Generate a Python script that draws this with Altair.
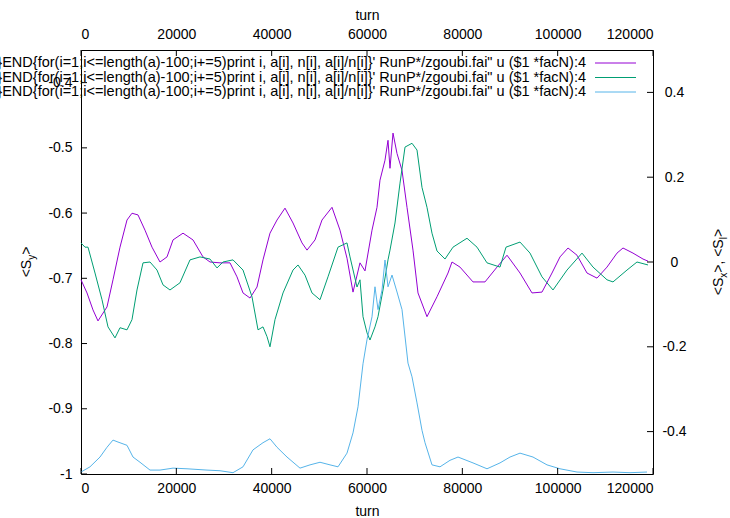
import altair as alt
import pandas as pd

# ---- data ----
turn_a = [0, 1259, 2517, 3566, 5454, 6713, 8182, 9650, 10699, 11958, 13427, 14895, 16573, 18042,
          19301, 21399, 23497, 25595, 27063, 29161, 31259, 32727, 33986, 35455, 36923, 38182,
          39650, 41119, 42797, 44476, 46364, 47413, 49091, 50559, 52657, 54336, 55804, 57063,
          58531, 59580, 61049, 62098, 62727, 63776, 64406, 64825, 65455, 66294, 67343, 68392,
          69650, 70699, 72587, 74685, 76993, 77832, 79510, 82238, 84755, 87273, 89371, 92098,
          94615, 96713, 98811, 100490, 102168, 104056, 106154, 108252, 110350, 112448, 113706,
          115804, 117902, 118951]
val_a = [-0.042, -0.073, -0.113, -0.139, -0.106, -0.042, 0.035, 0.099, 0.115, 0.111, 0.075, 0.035,
         0.0, 0.012, 0.052, 0.068, 0.052, 0.012, 0.0, -0.002, -0.002, -0.035, -0.073, -0.085,
         -0.059, 0.005, 0.068, 0.099, 0.127, 0.092, 0.045, 0.028, 0.052, 0.099, 0.129, 0.075,
         0.009, -0.071, -0.002, -0.021, 0.075, 0.129, 0.193, 0.240, 0.287, 0.221, 0.304, 0.256,
         0.216, 0.129, 0.028, -0.073, -0.129, -0.082, -0.026, 0.0, -0.012, -0.047, -0.047,
         -0.012, 0.016, -0.026, -0.073, -0.071, -0.026, 0.012, 0.033, 0.016, -0.026, -0.038,
         -0.012, 0.021, 0.033, 0.021, 0.007, 0.002]

turn_b = [0, 839, 1469, 2937, 4406, 5664, 7133, 8182, 9650, 10699, 11748, 13007, 14476, 15944,
          17203, 18671, 20769, 22867, 24965, 27063, 28532, 29790, 31888, 33986, 35874, 37133,
          38182, 39021, 39650, 40699, 42378, 44476, 45524, 46993, 48461, 50140, 51818, 53916,
          55804, 56434, 57902, 58531, 59161, 60000, 60629, 61678, 62308, 63357, 64406, 64825,
          65874, 66923, 67972, 69441, 70490, 71538, 72587, 73636, 74685, 76364, 78042, 80979,
          83077, 85175, 87902, 89161, 92098, 94196, 96713, 99021, 101958, 105105, 107413,
          110350, 111608, 114545, 116643, 118951]
val_b = [0.045, 0.035, 0.035, -0.026, -0.089, -0.153, -0.179, -0.155, -0.160, -0.136, -0.066,
         -0.002, 0.0, -0.019, -0.054, -0.066, -0.049, 0.005, 0.012, 0.007, -0.014, 0.0, 0.005,
         -0.019, -0.082, -0.160, -0.153, -0.176, -0.200, -0.136, -0.073, -0.019, -0.007, -0.031,
         -0.073, -0.089, -0.035, 0.035, 0.045, 0.012, -0.059, -0.042, -0.129, -0.167, -0.184,
         -0.153, -0.129, -0.066, 0.005, 0.028, 0.092, 0.186, 0.271, 0.280, 0.264, 0.176, 0.129,
         0.068, 0.026, 0.007, 0.035, 0.056, 0.035, -0.002, -0.012, 0.035, 0.047, 0.021, -0.035,
         -0.066, -0.019, 0.021, -0.012, -0.042, -0.047, -0.019, 0.0, -0.007]

turn_c = [0, 1888, 3986, 5454, 6713, 7762, 9650, 10909, 12378, 14476, 16573, 19301, 22238,
          26434, 29161, 31888, 33986, 36084, 38182, 39650, 41119, 43217, 45944, 48042, 50140,
          52238, 53916, 55804, 57063, 58112, 59161, 60000, 61049, 61678, 62308, 63147, 63776,
          64406, 65245, 66294, 67343, 68601, 69441, 70490, 71538, 72168, 73636, 75315, 77413,
          79091, 82238, 85175, 87902, 90000, 92098, 94825, 97762, 100490, 104056, 107413,
          111608, 115175, 118741]
val_c = [-0.997, -0.989, -0.974, -0.959, -0.948, -0.951, -0.956, -0.974, -0.982, -0.994, -0.994,
         -0.991, -0.992, -0.994, -0.995, -0.998, -0.989, -0.963, -0.952, -0.946, -0.959, -0.974,
         -0.991, -0.986, -0.982, -0.986, -0.989, -0.968, -0.937, -0.897, -0.831, -0.794, -0.759,
         -0.713, -0.748, -0.718, -0.672, -0.713, -0.695, -0.721, -0.748, -0.830, -0.851, -0.891,
         -0.933, -0.952, -0.986, -0.989, -0.979, -0.974, -0.983, -0.992, -0.983, -0.974, -0.968,
         -0.974, -0.986, -0.992, -0.997, -0.998, -0.997, -0.998, -0.997]

x_ticks = [0, 20000, 40000, 60000, 80000, 100000, 120000]
left_ticks = [-1.0, -0.9, -0.8, -0.7, -0.6, -0.5, -0.4]
right_ticks = [-0.4, -0.2, 0.0, 0.2, 0.4]
series_names = ["a", "b", "c"]
colors = ["#9400d3", "#009e73", "#56b4e9"]
legend_label = ("}END{for(i=1;i<=length(a)-100;i+=5)print i, a[i], n[i], a[i]/n[i]}' "
                "RunP*/zgoubi.fai\" u ($1 *facN):4")

# ---- layout ----
W, H = 572, 424
FONT = "Liberation Sans"
FS = 14
LEG_FS = 14.5

xscale = alt.Scale(domain=[0, 120000], nice=False, zero=False)
yR = alt.Scale(domain=[-0.5, 0.5], nice=False, zero=False)
yL = alt.Scale(domain=[-1.0, -0.35], nice=False, zero=False)
fix_minus = "replace(format(datum.value, '~g'), '\u2212', '-')"

common_axis = dict(ticks=False, domain=False, grid=False, labelFont=FONT, labelFontSize=FS,
                   labelColor="black", titleFont=FONT, titleFontSize=FS, titleColor="black",
                   titleFontWeight="normal")

df_ab = pd.concat([
    pd.DataFrame({"turn": turn_a, "v": val_a, "s": series_names[0]}),
    pd.DataFrame({"turn": turn_b, "v": val_b, "s": series_names[1]}),
])
df_c = pd.DataFrame({"turn": turn_c, "v": val_c, "s": series_names[2]})

lines_ab = alt.Chart(df_ab).mark_line(strokeWidth=1).encode(
    x=alt.X("turn:Q", scale=xscale,
            axis=alt.Axis(orient="bottom", values=x_ticks, format="d", title="turn",
                          labelPadding=7.5, titlePadding=8.5, **common_axis)),
    y=alt.Y("v:Q", scale=yR,
            axis=alt.Axis(orient="right", values=right_ticks, title=None, labelAlign="center",
                          labelPadding=21, labelExpr=fix_minus, **common_axis)),
    color=alt.Color("s:N", scale=alt.Scale(domain=series_names[:2], range=colors[:2]), legend=None),
    detail="s:N",
)

line_c = alt.Chart(df_c).mark_line(strokeWidth=1, color=colors[2]).encode(
    x=alt.X("turn:Q", scale=xscale,
            axis=alt.Axis(orient="top", values=x_ticks, format="d", title="turn",
                          labelPadding=9, titlePadding=5, **common_axis)),
    y=alt.Y("v:Q", scale=yL,
            axis=alt.Axis(orient="left", values=left_ticks, title=None, labelPadding=9,
                          labelExpr=fix_minus, **common_axis)),
)

# inward tick marks (gnuplot style)
TL = 6
tick_left = alt.Chart(pd.DataFrame({"v": left_ticks})).mark_rule(color="black").encode(
    y=alt.Y("v:Q", scale=yL, axis=None), x=alt.value(0), x2=alt.value(TL))
tick_right = alt.Chart(pd.DataFrame({"v": right_ticks})).mark_rule(color="black").encode(
    y=alt.Y("v:Q", scale=yR, axis=None), x=alt.value(W - TL), x2=alt.value(W))
tick_bottom = alt.Chart(pd.DataFrame({"t": x_ticks})).mark_rule(color="black").encode(
    x=alt.X("t:Q", scale=xscale, axis=None), y=alt.value(H - TL), y2=alt.value(H))
tick_top = alt.Chart(pd.DataFrame({"t": x_ticks})).mark_rule(color="black").encode(
    x=alt.X("t:Q", scale=xscale, axis=None), y=alt.value(0), y2=alt.value(TL))

one = pd.DataFrame({"k": [0]})
legend_layers = []
for i, c in enumerate(colors):
    yy = 13 + 14.5 * i
    legend_layers.append(
        alt.Chart(one).mark_text(align="right", baseline="middle", font=FONT, fontSize=LEG_FS,
                                 color="black").encode(
            x=alt.value(505), y=alt.value(yy), text=alt.value(legend_label)))
    legend_layers.append(
        alt.Chart(one).mark_rule(color=c, strokeWidth=1).encode(
            x=alt.value(514), x2=alt.value(555), y=alt.value(yy)))

# axis titles with subscripts, built from rotated text pieces
def rotated_title(pieces, cx, cy):
    # pieces: (text, fontsize, shift, width)
    total = sum(p[3] for p in pieces)
    y = cy + total / 2.0
    out = []
    for txt, fs, shift, w in pieces:
        out.append(alt.Chart(one).mark_text(angle=270, align="left", baseline="middle",
                                            font=FONT, fontSize=fs, color="black").encode(
            x=alt.value(cx + shift), y=alt.value(y), text=alt.value(txt)))
        y -= w
    return out

SUB = 10
left_title = rotated_title([("<S", FS, 0, 17.5), ("y", SUB, 4.5, 5.0), (">", FS, 0, 8.2)],
                           27 - 81, 262 - 50)
right_title = rotated_title([("<S", FS, 0, 17.5), ("x", SUB, 4.5, 5.0), (">, <S", FS, 0, 33.5),
                             ("l", SUB, 4.5, 2.4), (">", FS, 0, 8.2)],
                            719 - 81, 262 - 50)

chart = alt.layer(
    lines_ab, line_c, tick_left, tick_right, tick_bottom, tick_top,
    *legend_layers, *left_title, *right_title
).resolve_scale(
    y="independent"
).resolve_axis(
    x="independent", y="independent"
).properties(
    width=W, height=H,
    autosize=alt.AutoSizeParams(type="none"),
    padding={"left": 81, "top": 50, "right": 77, "bottom": 44},
    background="white",
).configure_view(
    stroke="black", strokeWidth=1
)

chart.save("out.html", embed_options={"renderer": "svg", "actions": False})
